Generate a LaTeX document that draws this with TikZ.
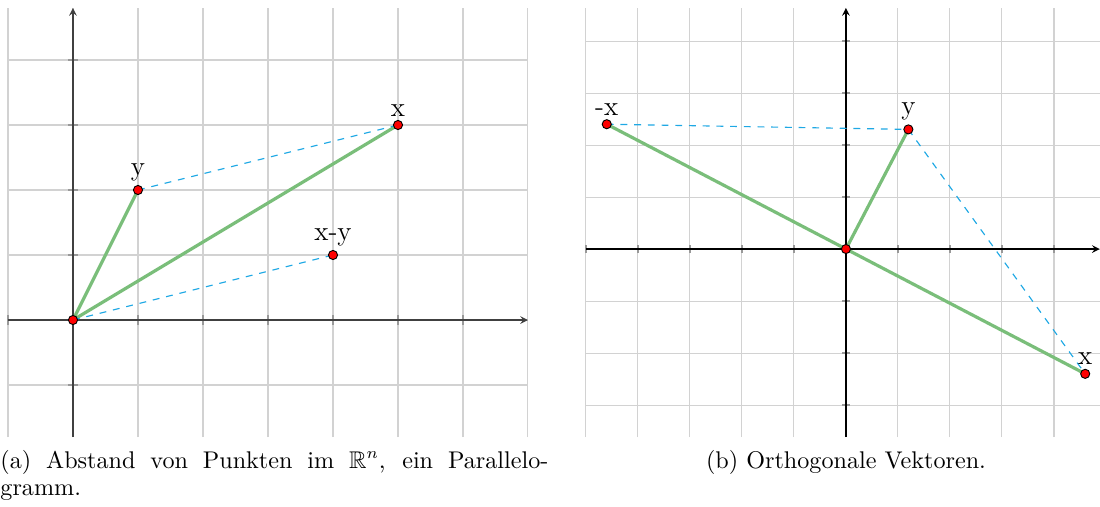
\documentclass[tikz,border=0pt]{standalone}
\usepackage{amsmath,amssymb}
\usepackage{tikz}
\usetikzlibrary{arrows,positioning}
\definecolor{vecgreen}{RGB}{122,190,122}
\definecolor{difblue}{RGB}{30,168,228}
\begin{document}
\begin{tikzpicture}[>=stealth,
  gridline/.style={gray!35,line width=0.45pt},
  axis/.style={->,line width=0.5pt},
  tick/.style={black!40,line width=0.5pt},
  vec/.style={vecgreen,line width=1.4pt},
  aux/.style={difblue,dashed,line width=0.5pt},
  pt/.style={draw=black,fill=red,circle,inner sep=0pt,minimum size=4pt,line width=0.4pt},
  lbl/.style={font=\large,inner sep=1.5pt},
  capt/.style={inner sep=0,font=\fontsize{10.57pt}{12pt}\selectfont}]
\useasboundingbox (-1.123,-2.862) rectangle (15.8,4.923);
% (a) Parallelogramm
\draw[gridline] (-1,-1.8) grid (7,4.8);
\foreach \i in {-1,...,6} \draw[tick] (\i,-0.08) -- (\i,0.08);
\foreach \i in {-1,...,4} \draw[tick] (-0.08,\i) -- (0.08,\i);
\draw[axis,black!75] (-1,0) -- (7,0);
\draw[axis,black!75] (0,-1.8) -- (0,4.8);
\coordinate (a0) at (0,0);
\coordinate (ax) at (5,3);
\coordinate (ay) at (1,2);
\coordinate (axy) at (4,1);
\draw[vec] (a0) -- (ay); \draw[vec] (a0) -- (ax);
\draw[aux] (ay) -- (ax); \draw[aux] (a0) -- (axy);
\node[pt] (pa0) at (a0) {};
\node[pt,label={[lbl]above:x}] (pax) at (ax) {};
\node[pt,label={[lbl]above:y}] (pay) at (ay) {};
\node[pt,label={[lbl]above:x-y}] (paxy) at (axy) {};
\node[capt,anchor=base west] (capa) at (-1.123,-2.277) {\parbox[t]{8.43cm}{(a) Abstand von Punkten im $\mathbb{R}^n$, ein Parallelo-\linebreak gramm.}};
% (b) orthogonal
\begin{scope}[shift={(11.892,1.092)},scale=0.8]
\draw[gridline] (-5,-3.615) grid (4.88,4.635);
\foreach \i in {-5,...,4} \draw[tick] (\i,-0.08) -- (\i,0.08);
\foreach \i in {-3,...,4} \draw[tick] (-0.08,\i) -- (0.08,\i);
\draw[axis,black] (-5,0) -- (4.88,0);
\draw[axis,black] (0,-3.615) -- (0,4.635);
\coordinate (b0) at (0,0);
\coordinate (bx) at (4.6,-2.4);
\coordinate (bmx) at (-4.6,2.4);
\coordinate (by) at (1.2,2.3);
\draw[vec] (bmx) -- (bx); \draw[vec] (b0) -- (by);
\draw[aux] (bmx) -- (by); \draw[aux] (by) -- (bx);
\node[pt] (pb0) at (b0) {};
\node[pt,label={[lbl]above:x}] (pbx) at (bx) {};
\node[pt,label={[lbl]above:-x}] (pbmx) at (bmx) {};
\node[pt,label={[lbl]above:y}] (pby) at (by) {};
\end{scope}
\node[capt,anchor=base] (capb) at (11.892,-2.277) {(b) Orthogonale Vektoren.};
\end{tikzpicture}
\end{document}
